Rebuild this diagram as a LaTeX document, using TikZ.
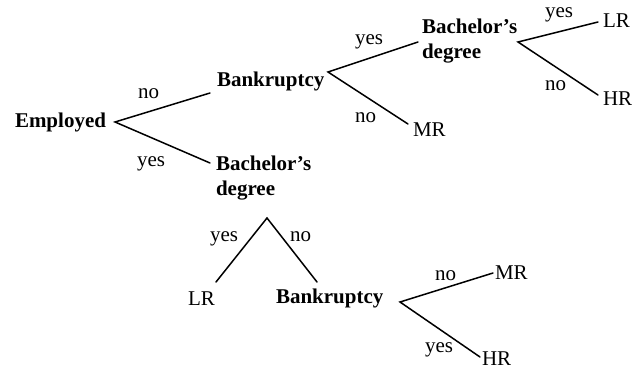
\documentclass[tikz,border=0pt]{standalone}
\usepackage{fontspec}
\setmainfont{Liberation Serif}
\begin{document}
\begin{tikzpicture}[x=1pt,y=-1pt,
  every node/.style={inner sep=0pt,outer sep=0pt,anchor=base west,font=\fontsize{21}{25}\selectfont},
  dec/.style={font=\fontsize{21}{25}\selectfont\bfseries,align=left},
  leaf/.style={},
  lbl/.style={},
  edge/.style={line width=1.5pt,line cap=round}]
\useasboundingbox (0,0) rectangle (637,369);
% decision nodes
\node[dec] (emp) at (15,127) {Employed};
\node[dec] (bk1) at (217,86) {Bankruptcy};
\node[dec] (bd1) at (216,195) {Bachelor’s\\degree};
\node[dec] (bd2) at (422,59) {Bachelor’s\\degree};
\node[dec] (bk2) at (276,303) {Bankruptcy};
% leaves
\node[leaf] (mr1) at (413,136) {MR};
\node[leaf] (lr1) at (603,28) {LR};
\node[leaf] (hr1) at (603,105) {HR};
\node[leaf] (lr2) at (188,305) {LR};
\node[leaf] (mr2) at (495,279) {MR};
\node[leaf] (hr2) at (482,365) {HR};
% connector points
\coordinate (aemp) at (115,122);
\coordinate (ebk1) at (210,93);
\coordinate (ebd1) at (210,163);
\coordinate (abk1) at (328,72);
\coordinate (ebd2) at (418,42);
\coordinate (emr1) at (408,124);
\coordinate (abd2) at (518,42);
\coordinate (elr1) at (598,22);
\coordinate (ehr1) at (598,95);
\coordinate (abd1) at (267,218);
\coordinate (elr2) at (216,282);
\coordinate (ebk2) at (317,282);
\coordinate (abk2) at (400,302);
\coordinate (emr2) at (493,273);
\coordinate (ehr2) at (480,357);
% connectors
\draw[edge] (ebk1) -- (aemp) -- (ebd1);
\draw[edge] (ebd2) -- (abk1) -- (emr1);
\draw[edge] (elr1) -- (abd2) -- (ehr1);
\draw[edge] (elr2) -- (abd1) -- (ebk2);
\draw[edge] (emr2) -- (abk2) -- (ehr2);
% labels
\node[lbl] (l1) at (138,98) {no};
\node[lbl] (l2) at (137,166) {yes};
\node[lbl] (l3) at (355,45) {yes};
\node[lbl] (l4) at (355,122) {no};
\node[lbl] (l5) at (545,18) {yes};
\node[lbl] (l6) at (545,90) {no};
\node[lbl] (l7) at (210,241) {yes};
\node[lbl] (l8) at (290,241) {no};
\node[lbl] (l9) at (435,280) {no};
\node[lbl] (l10) at (425,352) {yes};
\end{tikzpicture}
\end{document}
